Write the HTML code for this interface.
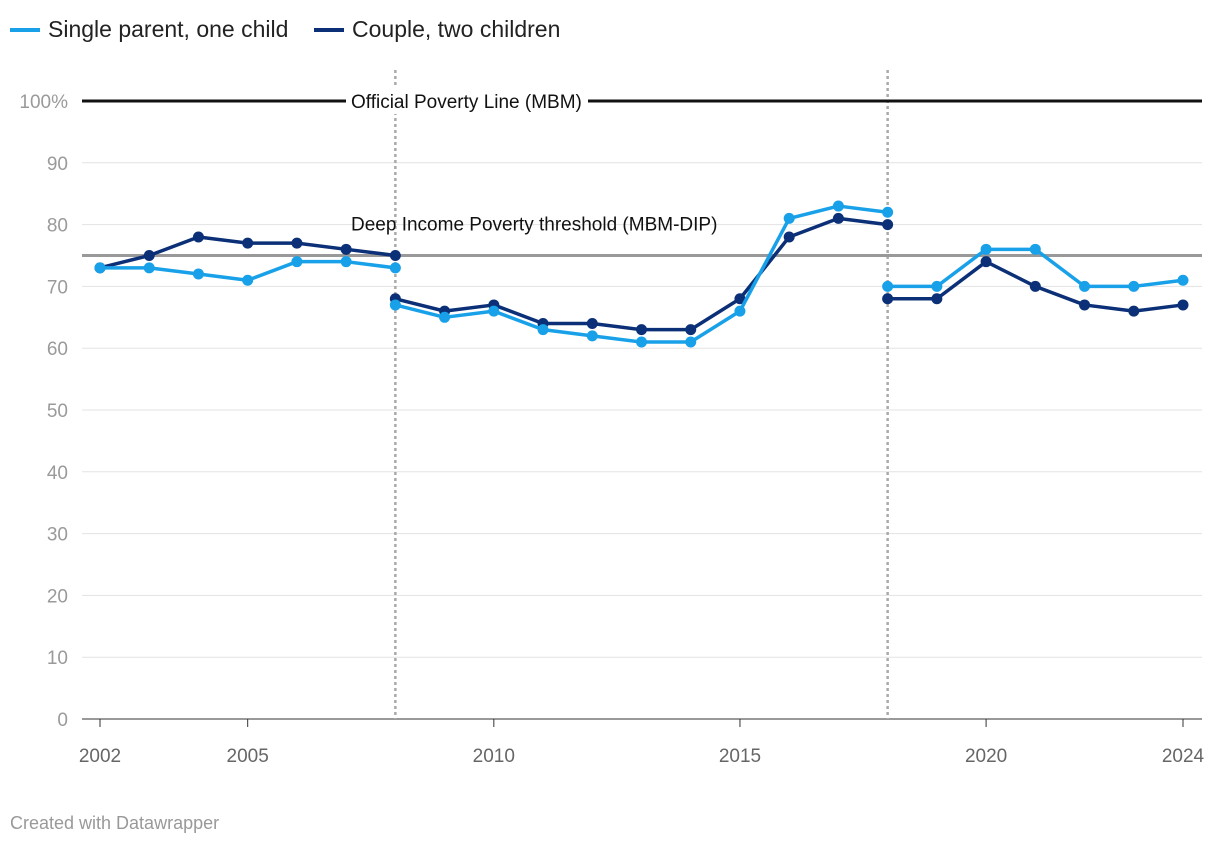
<!DOCTYPE html>
<html><head><meta charset="utf-8"><style>
body{margin:0;background:#fff;font-family:"Liberation Sans",Roboto,sans-serif}
svg text{font-family:"Liberation Sans",sans-serif}
</style></head><body>
<svg id="chart" width="1220" height="842" xmlns="http://www.w3.org/2000/svg">
<g>
<line x1="10" y1="30" x2="40" y2="30" stroke="#18a1e8" stroke-width="4"/>
<text x="48" y="37" font-size="23" fill="#222">Single parent, one child</text>
<line x1="314" y1="30" x2="344" y2="30" stroke="#0b3077" stroke-width="4"/>
<text x="352" y="37" font-size="23" fill="#222">Couple, two children</text>
</g>
<g id="grid"></g>
<g id="marks"></g>
<text x="10" y="829" font-size="18" fill="#999">Created with Datawrapper</text>
</svg>
<script>
const years=[2002,2003,2004,2005,2006,2007,2008,2008,2009,2010,2011,2012,2013,2014,2015,2016,2017,2018,2018,2019,2020,2021,2022,2023,2024];
const segments=[[0,7],[7,18],[18,25]];
const singleParent=[73,73,72,71,74,74,73,67,65,66,63,62,61,61,66,81,83,82,70,70,76,76,70,70,71];
const couple=[73,75,78,77,77,76,75,68,66,67,64,64,63,63,68,78,81,80,68,68,74,70,67,66,67];
const yTicks=[0,10,20,30,40,50,60,70,80,90,100];
const xTicks=[2002,2005,2010,2015,2020,2024];
const breaks=[2008,2018];
const refLines=[100,75];
const NS="http://www.w3.org/2000/svg";
const X=y=>100+(y-2002)*(1183-100)/22;
const Y=v=>719-v*6.18;
function mk(p,t,a){const e=document.createElementNS(NS,t);for(const k in a)e.setAttribute(k,a[k]);p.appendChild(e);return e;}
const g=document.getElementById('grid'),m=document.getElementById('marks');
yTicks.forEach(v=>{
 const l=mk(g,'line',{x1:82,x2:1202,y1:Y(v),y2:Y(v),stroke:v===0?'#333':'#e3e3e3','stroke-width':1});
 
 
 const t=mk(g,'text',{x:68,y:Y(v)+7,'font-size':19,fill:'#9a9a9a','text-anchor':'end'});
 t.textContent=v===100?'100%':v;
 
 
});
xTicks.forEach(yr=>{
 const l=mk(g,'line',{x1:X(yr),x2:X(yr),y1:719,y2:727,stroke:'#333'});
 
 
 const t=mk(g,'text',{x:X(yr),y:762,'font-size':19,fill:'#666','text-anchor':'middle'});
 t.textContent=yr;
 
 
});
breaks.forEach(yr=>{
 const l=mk(g,'line',{x1:X(yr),x2:X(yr),y1:70,y2:719,stroke:'#aaa','stroke-width':2.5,'stroke-dasharray':'3,3'});
 
 
});
const l100=mk(g,'line',{x1:82,x2:1202,y1:Y(refLines[0]),y2:Y(refLines[0]),stroke:'#111','stroke-width':3});


const l75=mk(g,'line',{x1:82,x2:1202,y1:Y(refLines[1]),y2:Y(refLines[1]),stroke:'#999','stroke-width':3});


const r=mk(g,'rect',{x:346,y:Y(100)-13,width:242,height:26,fill:'#fff'});


const t1=mk(g,'text',{x:351,y:Y(100)+7,'font-size':19,fill:'#111'});t1.textContent='Official Poverty Line (MBM)';


const t2=mk(g,'text',{x:351,y:Y(80)+6,'font-size':19,fill:'#111'});t2.textContent='Deep Income Poverty threshold (MBM-DIP)';


[[couple,'#0b3077','couple'],[singleParent,'#18a1e8','single-parent']].forEach(([vals,col,nm])=>{
 segments.forEach(([a,b],si)=>{
  let d='';for(let i=a;i<b;i++)d+=(i===a?'M':'L')+X(years[i])+','+Y(vals[i]);
  const p=mk(m,'path',{d:d,fill:'none',stroke:col,'stroke-width':3.5,'stroke-linejoin':'round'});
  
  
  for(let i=a;i<b;i++){
   const c=mk(m,'circle',{cx:X(years[i]),cy:Y(vals[i]),r:5.5,fill:col});
   
   
  }
 });
});
</script>
</body></html>
